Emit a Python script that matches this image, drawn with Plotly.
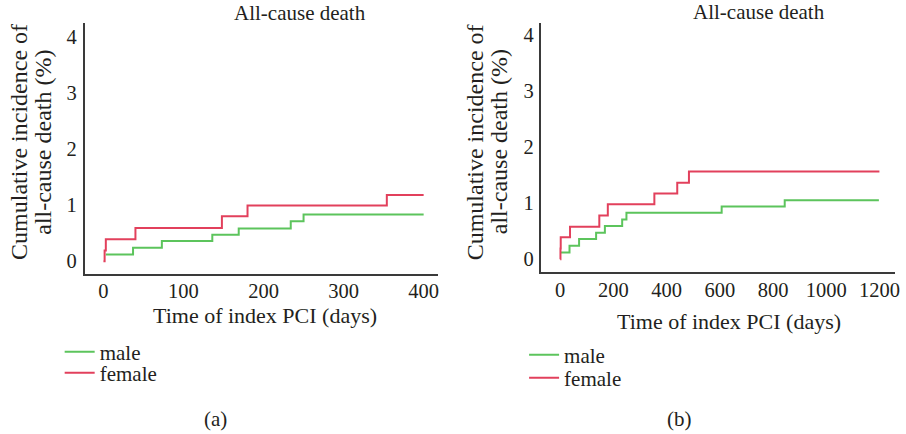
import plotly.graph_objects as go

# ---- data ----
# panel (a): first 400 days
a_female_days = [0, 1.5, 3, 40, 148, 180, 354, 400]
a_female_pct = [0, 0.19, 0.39, 0.59, 0.80, 0.99, 1.18, 1.18]
a_male_days = [3, 37, 73, 136, 169, 234, 250, 400]
a_male_pct = [0.12, 0.24, 0.36, 0.47, 0.58, 0.71, 0.83, 0.83]

# panel (b): full follow-up
b_female_days = [0, 1, 2, 37, 147, 179, 354, 440, 484, 1200]
b_female_pct = [0, 0.19, 0.39, 0.58, 0.78, 0.98, 1.17, 1.36, 1.56, 1.56]
b_male_days = [3, 35, 71, 135, 168, 233, 249, 607, 844, 1198]
b_male_pct = [0.12, 0.24, 0.36, 0.47, 0.59, 0.71, 0.83, 0.94, 1.05, 1.05]

a_xticks = [0, 100, 200, 300, 400]
b_xticks = [0, 200, 400, 600, 800, 1000, 1200]
yticks = [0, 1, 2, 3, 4]

title_text = "All-cause death"
xtitle = "Time of index PCI (days)"
ytitle_line1 = "Cumulative incidence of"
ytitle_line2 = "all-cause death (%)"

RED = "#e2405c"
GREEN = "#5cc45c"
FONT = "Liberation Serif"
TXT = "#231f20"
W, H = 906, 434

fig = go.Figure()

def add(days, pct, name, color, xa, ya, legend):
    fig.add_trace(go.Scatter(
        x=days, y=pct, mode="lines", line=dict(shape="hv", color=color, width=2),
        name=name, xaxis=xa, yaxis=ya, legend=legend, hoverinfo="x+y+name"))

add(a_male_days, a_male_pct, "male", GREEN, "x", "y", "legend")
add(a_female_days, a_female_pct, "female", RED, "x", "y", "legend2")
add(b_male_days, b_male_pct, "male", GREEN, "x2", "y2", "legend3")
add(b_female_days, b_female_pct, "female", RED, "x2", "y2", "legend4")

axis_common = dict(showline=True, linecolor="#3a3a3a", linewidth=1.5, showgrid=False,
                   zeroline=False, ticks="", tickfont=dict(family=FONT, size=20.5, color=TXT),
                   mirror=False, ticklabeloverflow="allow")

def px_x(p):
    return p / W

def px_y(p):
    return 1 - p / H

def leg(xp, yp):
    return dict(x=px_x(xp), y=px_y(yp), xanchor="left", yanchor="middle",
                font=dict(family=FONT, size=21, color=TXT), bgcolor="rgba(0,0,0,0)",
                itemwidth=30, tracegroupgap=0)

fig.update_layout(
    width=W, height=H, margin=dict(l=0, r=0, t=0, b=0),
    paper_bgcolor="white", plot_bgcolor="white",
    font=dict(family=FONT, size=21, color=TXT),
    xaxis=dict(domain=[px_x(85), px_x(440)], range=[-23.6, 417.4], anchor="y",
               tickvals=a_xticks, ticklabelstandoff=-2, **axis_common),
    yaxis=dict(domain=[px_y(273.5), px_y(22.7)], range=[-0.22, 4.25], anchor="x",
               tickvals=yticks, ticklabelstandoff=2, **axis_common),
    xaxis2=dict(domain=[px_x(544.5), px_x(900)], range=[-70.3, 1258.7], anchor="y2",
                tickvals=b_xticks, ticklabelstandoff=-2, **axis_common),
    yaxis2=dict(domain=[px_y(272.2), px_y(22.7)], range=[-0.23, 4.21], anchor="x2",
                tickvals=yticks, ticklabelstandoff=2, **axis_common),
    legend=leg(60, 352),
    legend2=leg(60, 373),
    legend3=leg(527, 355),
    legend4=leg(527, 378),
    showlegend=True,
)

def ann(text, x, y, angle=0, size=21):
    fig.add_annotation(text=text, x=px_x(x), y=px_y(y), xref="paper", yref="paper",
                       xanchor="center", yanchor="middle", showarrow=False,
                       textangle=angle, font=dict(family=FONT, size=size, color=TXT))

ann(title_text, 302, 13)
ann(title_text, 763, 12)
ann(xtitle, 266, 315, size=22)
ann(xtitle, 733, 321, size=22)
ann(ytitle_line1, 19, 142, angle=-90, size=24)
ann(ytitle_line2, 43, 142, angle=-90, size=24)
ann(ytitle_line1, 478, 142, angle=-90, size=24)
ann(ytitle_line2, 502, 142, angle=-90, size=24)
ann("(a)", 217, 419)
ann("(b)", 683, 419)

# remove the browser's default body margin so the figure fills the window exactly
fig.write_html("out.html", config={"displayModeBar": False},
               post_script="document.body.style.margin='0';")
